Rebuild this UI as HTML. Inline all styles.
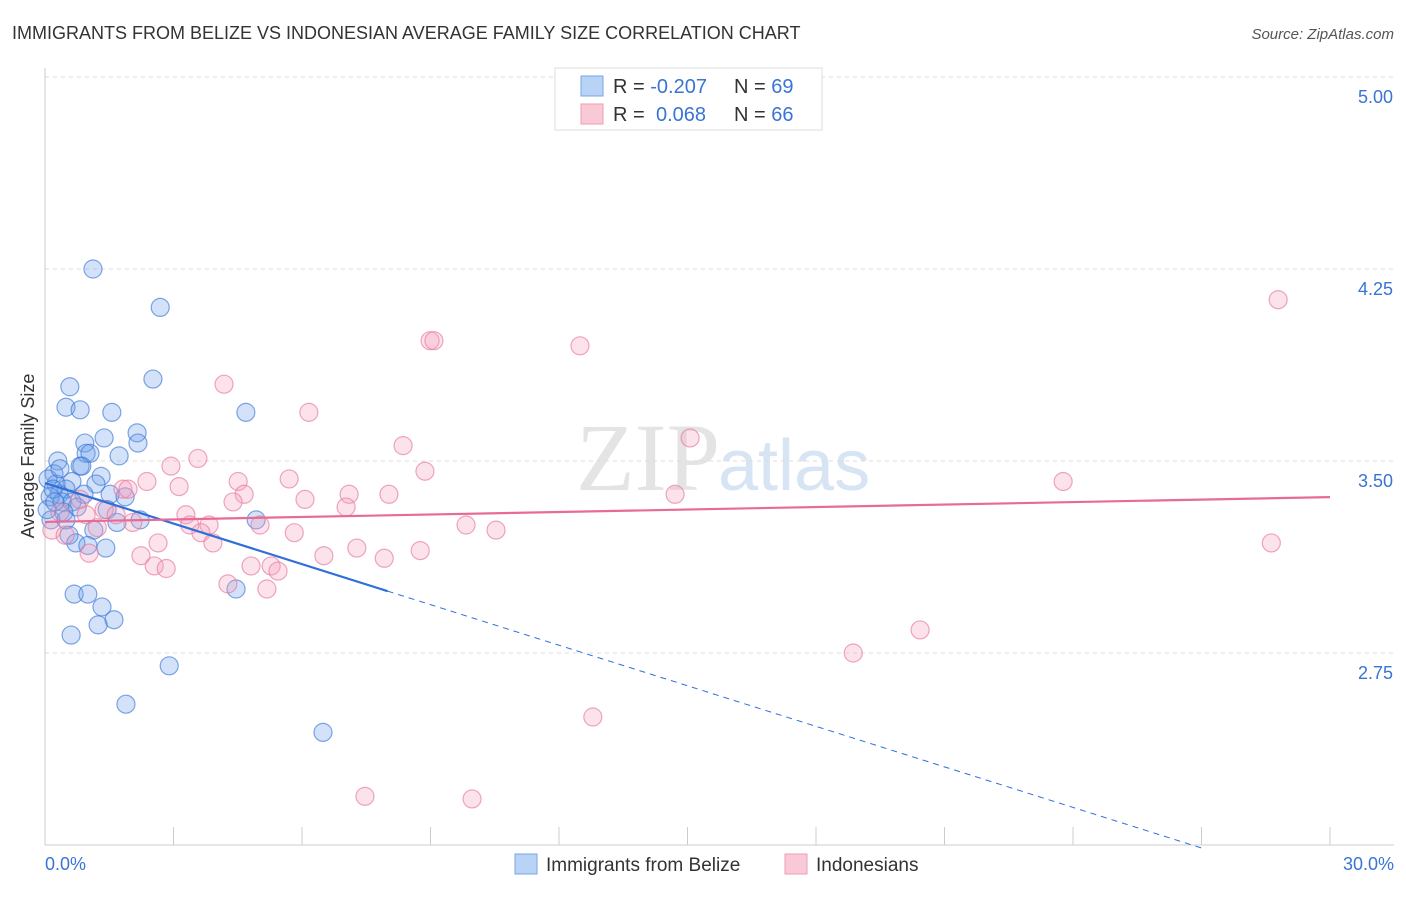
<!DOCTYPE html>
<html><head><meta charset="utf-8"><style>
body{margin:0;background:#fff;font-family:"Liberation Sans",sans-serif;}
</style></head><body>
<svg id="c" width="1406" height="892" xmlns="http://www.w3.org/2000/svg">
<text x="12" y="39" font-size="18" fill="#333">IMMIGRANTS FROM BELIZE VS INDONESIAN AVERAGE FAMILY SIZE CORRELATION CHART</text>
<text x="1394" y="39" font-size="15" fill="#555" text-anchor="end" font-style="italic">Source: ZipAtlas.com</text>
<text x="720" y="490" font-size="96" fill="#e4e4e4" text-anchor="end" font-family="Liberation Serif,serif">ZIP</text>
<text x="718" y="490" font-size="72" fill="#d6e4f4">atlas</text>
<g id="grid"></g><g id="axes"></g><g id="pts"></g><g id="lines"></g>
<text transform="translate(34,456) rotate(-90)" font-size="18" fill="#333" text-anchor="middle">Average Family Size</text>
<text x="45" y="870" font-size="18" fill="#3a74d4">0.0%</text>
<text x="1394" y="870" font-size="18" fill="#3a74d4" text-anchor="end">30.0%</text>
<g>
<rect x="555" y="68" width="267" height="62" fill="#fff" stroke="#ddd"/>
<rect x="581" y="76" width="22" height="20" fill="#b8d3f5" stroke="#7aa6e6"/>
<rect x="581" y="104" width="22" height="20" fill="#f9c9d7" stroke="#ee9db5"/>
<text x="613" y="93" font-size="20" fill="#333">R = <tspan fill="#3a74d4">-0.207</tspan><tspan x="734">N = </tspan><tspan fill="#3a74d4">69</tspan></text>
<text x="613" y="121" font-size="20" fill="#333">R = <tspan x="656" fill="#3a74d4">0.068</tspan><tspan x="734">N = </tspan><tspan fill="#3a74d4">66</tspan></text>
</g>
<g><rect x="515" y="854" width="22" height="20" fill="#b8d3f5" stroke="#7aa6e6"/><text x="546" y="871" font-size="19" fill="#333">Immigrants from Belize</text></g>
<g><rect x="785" y="854" width="22" height="20" fill="#f9c9d7" stroke="#ee9db5"/><text x="816" y="871" font-size="19" fill="#333">Indonesians</text></g>
</svg>
<script>
const yTicks=[5.00,4.25,3.50,2.75];
const xTickPct=[3,6,9,12,15,18,21,24,27,30];
const blueX=[1.12,2.69,2.52,0.58,0.49,0.82,1.56,4.69,1.38,2.15,2.17,0.93,0.96,1.05,1.73,0.30,0.82,0.86,0.21,1.31,0.63,1.19,0.26,0.49,0.33,0.91,1.52,1.87,0.12,0.40,0.63,0.75,1.45,0.44,2.22,4.93,1.68,0.14,1.14,0.56,0.72,1.42,1.00,4.46,0.68,1.00,1.33,1.61,1.24,0.61,2.90,1.89,6.49,0.07,0.19,0.05,0.35,0.49,0.23];
const blueY=[4.25,4.10,3.82,3.79,3.71,3.70,3.69,3.69,3.59,3.61,3.57,3.57,3.53,3.53,3.52,3.50,3.48,3.48,3.45,3.44,3.42,3.41,3.41,3.39,3.37,3.37,3.37,3.36,3.36,3.34,3.34,3.32,3.31,3.30,3.27,3.27,3.26,3.27,3.23,3.21,3.18,3.16,3.17,3.00,2.98,2.98,2.93,2.88,2.86,2.82,2.70,2.55,2.44,3.43,3.39,3.31,3.47,3.27,3.34];
const pinkX=[28.79,8.99,9.08,12.49,4.18,6.16,15.06,8.36,3.57,2.94,8.87,23.77,5.70,4.51,2.38,3.13,1.82,7.10,8.03,4.65,14.71,6.07,4.39,7.03,1.38,3.29,0.96,3.83,3.38,5.02,2.05,1.22,9.83,10.53,5.82,3.64,0.16,0.47,2.64,3.92,1.03,28.63,7.28,8.76,2.24,6.51,7.92,2.55,2.83,4.81,5.28,5.44,4.27,5.18,20.43,18.87,12.79,7.47,9.97,1.66,0.82,1.94,0.35];
const pinkY=[4.13,3.97,3.97,3.95,3.80,3.69,3.59,3.56,3.51,3.48,3.46,3.42,3.43,3.42,3.42,3.40,3.39,3.37,3.37,3.37,3.37,3.35,3.34,3.32,3.31,3.29,3.29,3.25,3.25,3.25,3.26,3.24,3.25,3.23,3.22,3.22,3.23,3.21,3.18,3.18,3.14,3.18,3.16,3.15,3.13,3.13,3.12,3.09,3.08,3.09,3.09,3.07,3.02,3.00,2.84,2.75,2.50,2.19,2.18,3.29,3.35,3.39,3.30];
const blueTrend=[3.414,-0.0528];
const pinkTrend=[3.262,0.00323];
const NS="http://www.w3.org/2000/svg";
const X=p=>45+p*(1285/30);
const Y=v=>77+(5-v)*256;
function mk(t,a,parent){const e=document.createElementNS(NS,t);for(const k in a)e.setAttribute(k,a[k]);document.getElementById(parent).appendChild(e);return e;}
yTicks.forEach(v=>{
 const l=mk('line',{x1:45,x2:1394,y1:Y(v),y2:Y(v),stroke:'#ddd','stroke-dasharray':'4,4'},'grid');
 
 
 const t=mk('text',{x:1393,y:Y(v)+26,'font-size':18,fill:'#3a74d4','text-anchor':'end'},'grid');t.textContent=v.toFixed(2);
 
 
});
mk('line',{x1:45,x2:45,y1:68,y2:845,stroke:'#ccc'},'axes');
mk('line',{x1:45,x2:1394,y1:845,y2:845,stroke:'#ccc'},'axes');
xTickPct.forEach(p=>{const l=mk('line',{x1:X(p),x2:X(p),y1:827,y2:845,stroke:'#ccc'},'axes');
 
 });
function pts(xs,ys,fill,stroke,name){xs.forEach((x,i)=>{const c=mk('circle',{cx:X(x),cy:Y(ys[i]),r:9,fill:fill,stroke:stroke,'stroke-width':1.2},'pts');
 
 });}
pts(blueX,blueY,'rgba(110,160,235,0.3)','rgba(60,120,215,0.65)','belize-point');
pts(pinkX,pinkY,'rgba(245,160,190,0.3)','rgba(230,120,155,0.65)','indonesian-point');
const bf=p=>blueTrend[0]+blueTrend[1]*p, pf=p=>pinkTrend[0]+pinkTrend[1]*p;
let l=mk('line',{x1:X(0),y1:Y(bf(0)),x2:X(8),y2:Y(bf(8)),stroke:'#2f6fd8','stroke-width':2.2},'lines');


l=mk('line',{x1:X(8),y1:Y(bf(8)),x2:X(27),y2:Y(bf(27)),stroke:'#2f6fd8','stroke-width':1,'stroke-dasharray':'6,5'},'lines');


l=mk('line',{x1:X(0),y1:Y(pf(0)),x2:X(30),y2:Y(pf(30)),stroke:'#e86b95','stroke-width':2.2},'lines');


</script>
</body></html>
